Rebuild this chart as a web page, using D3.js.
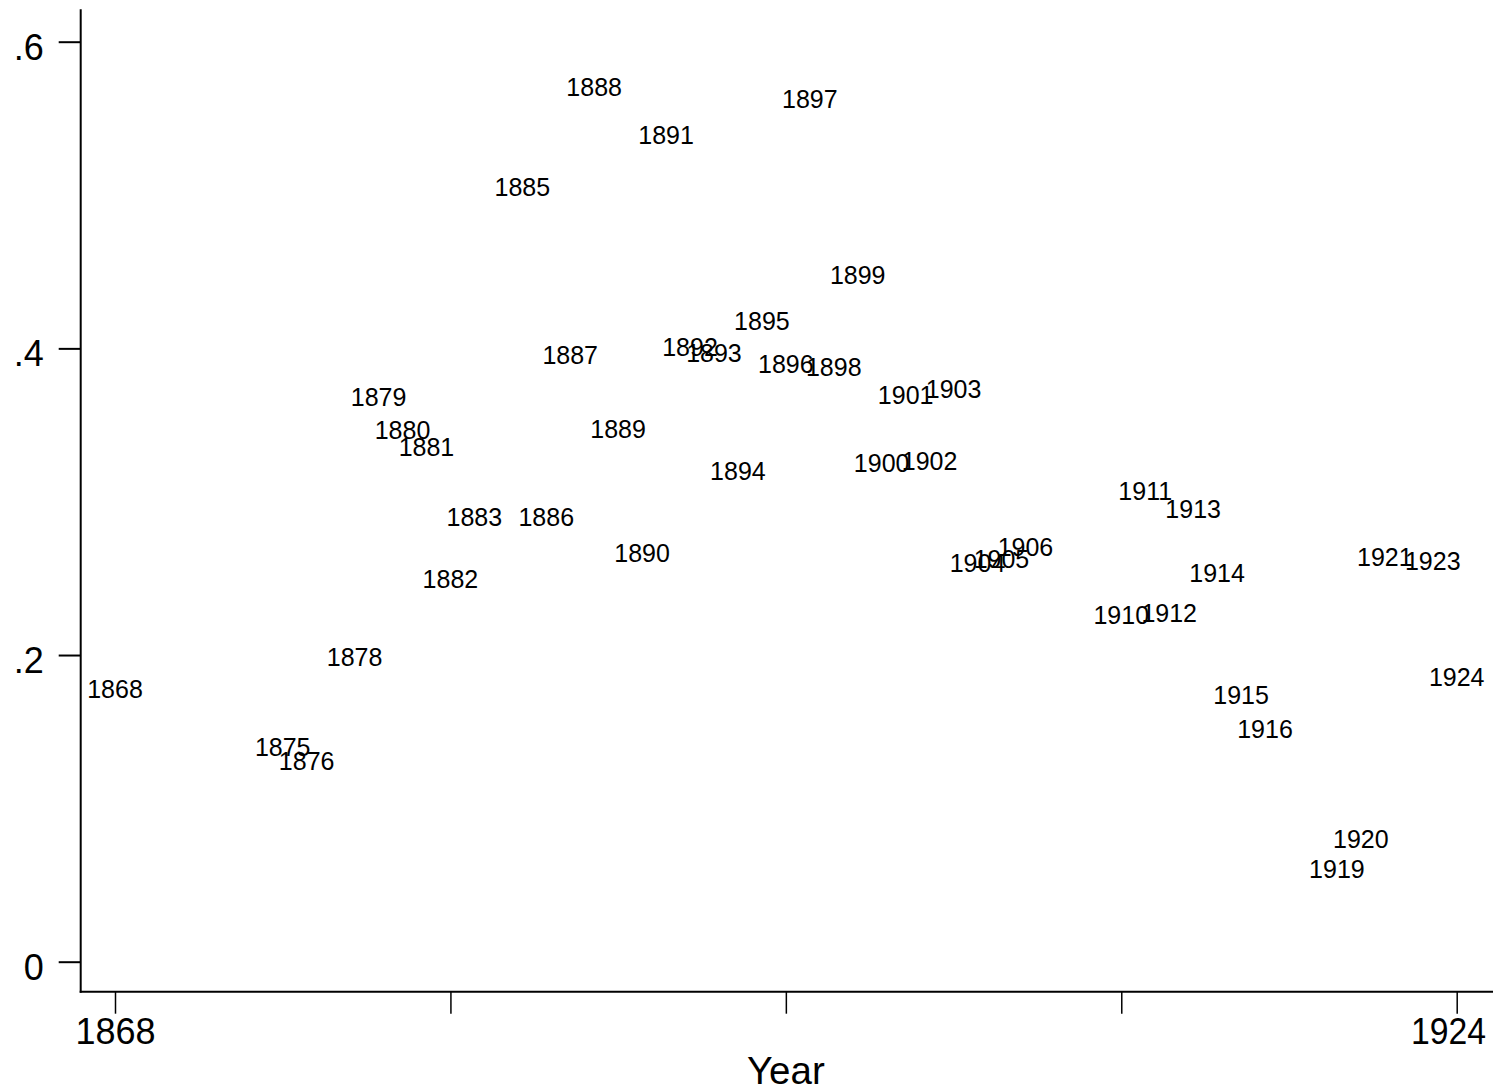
<!DOCTYPE html>
<html>
<head>
<meta charset="utf-8">
<script src="https://cdn.jsdelivr.net/npm/d3@7"></script>
<style>
  html, body { margin: 0; padding: 0; background: #fff; }
  svg { display: block; }
  text { font-family: "Liberation Sans", Arial, Helvetica, sans-serif; fill: #000; }
</style>
</head>
<body>
<svg id="chart" width="1493" height="1091"></svg>
<script>
// ---- data ----
const years = [1868, 1875, 1876, 1878, 1879, 1880, 1881, 1882, 1883, 1885, 1886, 1887,
  1888, 1889, 1890, 1891, 1892, 1893, 1894, 1895, 1896, 1897, 1898, 1899, 1900,
  1901, 1902, 1903, 1904, 1905, 1906, 1910, 1911, 1912, 1913, 1914, 1915, 1916,
  1919, 1920, 1921, 1923, 1924];
const values = [0.1778, 0.1399, 0.1308, 0.1986, 0.3686, 0.3470, 0.3356, 0.2495, 0.2900, 0.5052, 0.2900, 0.3956,
  0.5705, 0.3474, 0.2665, 0.5391, 0.4012, 0.3969, 0.3203, 0.4178, 0.3901, 0.5626, 0.3878, 0.4478, 0.3252,
  0.3695, 0.3268, 0.3735, 0.2600, 0.2626, 0.2704, 0.2260, 0.3069, 0.2277, 0.2955, 0.2534, 0.1742, 0.1517,
  0.0603, 0.0799, 0.2639, 0.2613, 0.1859];
const yTicks = [0, 0.2, 0.4, 0.6];
const yTickLabels = ["0", ".2", ".4", ".6"];
const xTicks = [1868, 1882, 1896, 1910, 1924];
const xTickLabels = ["1868", "", "", "", "1924"];
const xTitle = "Year";

// ---- layout ----
const W = 1493, H = 1091;
const svg = d3.select("#chart");
const x = d3.scaleLinear().domain([1868, 1924]).range([115, 1456.7]);
const y = d3.scaleLinear().domain([0, 0.6]).range([961.7, 41.7]);
const axisX0 = 80.7, axisY0 = 991.7, axisTop = 9.3;

// axes lines
svg.append("line").attr("x1", axisX0).attr("x2", axisX0).attr("y1", axisTop).attr("y2", axisY0 + 1)
  .attr("stroke", "#000").attr("stroke-width", 2);
svg.append("line").attr("x1", axisX0 - 1).attr("x2", W).attr("y1", axisY0).attr("y2", axisY0)
  .attr("stroke", "#000").attr("stroke-width", 2);

// y axis via d3
const yAxis = d3.axisLeft(y).tickValues(yTicks)
  .tickFormat((d, i) => yTickLabels[i]).tickSize(22).tickPadding(15);
const gy = svg.append("g").attr("transform", `translate(${axisX0},0)`).call(yAxis);
gy.select(".domain").remove();
gy.selectAll(".tick line").attr("stroke", "#000").attr("stroke-width", 2);
gy.selectAll(".tick text").attr("font-size", 36).attr("dy", null)
  .attr("dominant-baseline", "auto").attr("y", 17.5)
  .style("font-family", '"Liberation Sans", Arial, Helvetica, sans-serif');

// x axis via d3
const xAxis = d3.axisBottom(x).tickValues(xTicks)
  .tickFormat((d, i) => xTickLabels[i]).tickSize(22).tickPadding(4);
const gx = svg.append("g").attr("transform", `translate(0,${axisY0})`).call(xAxis);
gx.select(".domain").remove();
gx.selectAll(".tick line").attr("stroke", "#000").attr("stroke-width", 1.5);
gx.selectAll(".tick text").attr("font-size", 36).attr("dy", null).attr("y", 52.5)
  .style("font-family", '"Liberation Sans", Arial, Helvetica, sans-serif');
// keep last tick label inside the picture
gx.selectAll(".tick text").each(function () {
  const t = d3.select(this);
  const bb = this.getBBox();
  const tr = this.parentNode.getAttribute("transform");
  const tx = +tr.match(/translate\(([-\d.]+)/)[1];
  const right = tx + bb.x + bb.width;
  if (right > W - 7) {
    t.attr("textLength", 75).attr("lengthAdjust", "spacingAndGlyphs")
     .attr("x", (W - 7 - 37.5) - tx);
  }
});

// x title
svg.append("text").attr("x", x(1896)).attr("y", 1083.5).attr("text-anchor", "middle")
  .attr("font-size", 38.5).text(xTitle);

// marker labels (centered on the points)
const pts = years.map((yr, i) => ({ yr, v: values[i] }));
svg.append("g").selectAll("text").data(pts).join("text")
  .attr("x", d => x(d.yr))
  .attr("y", d => y(d.v))
  .attr("dy", 9)
  .attr("text-anchor", "middle")
  .attr("font-size", 25)
  .text(d => String(d.yr));
</script>
</body>
</html>
